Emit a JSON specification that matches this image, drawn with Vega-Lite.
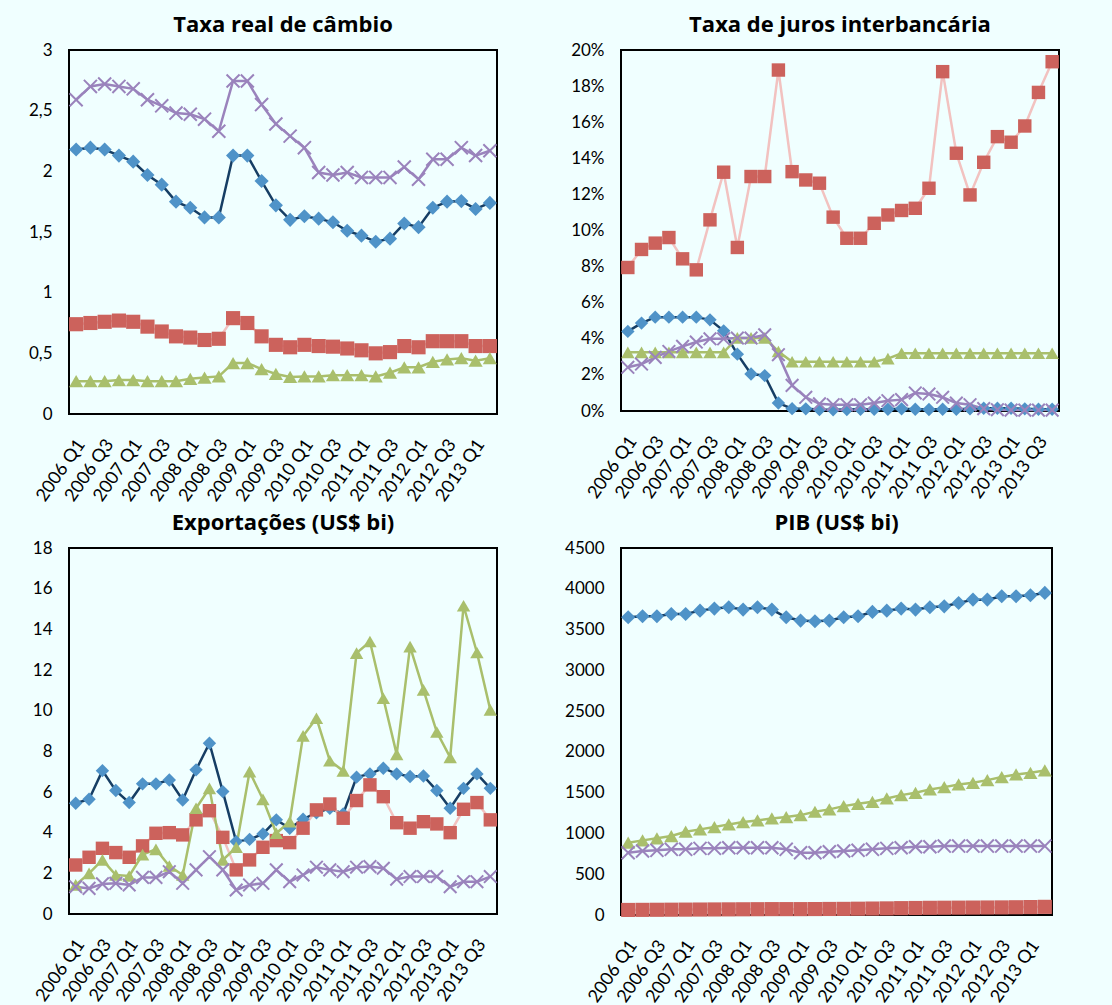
{
  "$schema": "https://vega.github.io/schema/vega-lite/v6.json",
  "background": "#F0FFFF",
  "padding": {"left": 27, "top": 13, "right": 50, "bottom": 3},
  "datasets": {
    "tl": [
      {"t":"2006 Q1","a":2.18,"b":0.74,"c":0.27,"d":2.59},
      {"t":"2006 Q2","a":2.195,"b":0.75,"c":0.27,"d":2.70},
      {"t":"2006 Q3","a":2.18,"b":0.76,"c":0.27,"d":2.72},
      {"t":"2006 Q4","a":2.13,"b":0.77,"c":0.28,"d":2.70},
      {"t":"2007 Q1","a":2.08,"b":0.76,"c":0.28,"d":2.68},
      {"t":"2007 Q2","a":1.97,"b":0.72,"c":0.27,"d":2.59},
      {"t":"2007 Q3","a":1.89,"b":0.68,"c":0.27,"d":2.54},
      {"t":"2007 Q4","a":1.75,"b":0.64,"c":0.27,"d":2.48},
      {"t":"2008 Q1","a":1.70,"b":0.63,"c":0.29,"d":2.47},
      {"t":"2008 Q2","a":1.62,"b":0.61,"c":0.30,"d":2.43},
      {"t":"2008 Q3","a":1.62,"b":0.62,"c":0.31,"d":2.33},
      {"t":"2008 Q4","a":2.13,"b":0.79,"c":0.42,"d":2.745},
      {"t":"2009 Q1","a":2.13,"b":0.75,"c":0.42,"d":2.745},
      {"t":"2009 Q2","a":1.92,"b":0.64,"c":0.37,"d":2.55},
      {"t":"2009 Q3","a":1.72,"b":0.57,"c":0.33,"d":2.39},
      {"t":"2009 Q4","a":1.60,"b":0.55,"c":0.305,"d":2.29},
      {"t":"2010 Q1","a":1.63,"b":0.57,"c":0.31,"d":2.195},
      {"t":"2010 Q2","a":1.61,"b":0.56,"c":0.31,"d":1.99},
      {"t":"2010 Q3","a":1.58,"b":0.555,"c":0.32,"d":1.97},
      {"t":"2010 Q4","a":1.51,"b":0.54,"c":0.32,"d":1.99},
      {"t":"2011 Q1","a":1.47,"b":0.525,"c":0.32,"d":1.95},
      {"t":"2011 Q2","a":1.42,"b":0.50,"c":0.31,"d":1.95},
      {"t":"2011 Q3","a":1.445,"b":0.51,"c":0.34,"d":1.95},
      {"t":"2011 Q4","a":1.57,"b":0.56,"c":0.385,"d":2.035},
      {"t":"2012 Q1","a":1.54,"b":0.55,"c":0.385,"d":1.935},
      {"t":"2012 Q2","a":1.70,"b":0.60,"c":0.43,"d":2.10},
      {"t":"2012 Q3","a":1.75,"b":0.60,"c":0.45,"d":2.10},
      {"t":"2012 Q4","a":1.755,"b":0.60,"c":0.46,"d":2.195},
      {"t":"2013 Q1","a":1.69,"b":0.56,"c":0.44,"d":2.13},
      {"t":"2013 Q2","a":1.74,"b":0.56,"c":0.46,"d":2.17}
    ],
    "tr": [
      {"t":"2006 Q1","a":4.41,"b":7.95,"c":3.25,"d":2.42},
      {"t":"2006 Q2","a":4.87,"b":8.95,"c":3.25,"d":2.60},
      {"t":"2006 Q3","a":5.20,"b":9.30,"c":3.25,"d":2.97},
      {"t":"2006 Q4","a":5.20,"b":9.61,"c":3.25,"d":3.30},
      {"t":"2007 Q1","a":5.20,"b":8.43,"c":3.25,"d":3.58},
      {"t":"2007 Q2","a":5.20,"b":7.82,"c":3.25,"d":3.82},
      {"t":"2007 Q3","a":5.05,"b":10.59,"c":3.25,"d":4.00},
      {"t":"2007 Q4","a":4.44,"b":13.23,"c":3.25,"d":4.00},
      {"t":"2008 Q1","a":3.15,"b":9.06,"c":4.05,"d":4.04},
      {"t":"2008 Q2","a":2.05,"b":12.99,"c":4.05,"d":4.04},
      {"t":"2008 Q3","a":1.96,"b":12.99,"c":4.05,"d":4.22},
      {"t":"2008 Q4","a":0.44,"b":18.89,"c":3.30,"d":3.12},
      {"t":"2009 Q1","a":0.13,"b":13.26,"c":2.73,"d":1.42},
      {"t":"2009 Q2","a":0.12,"b":12.80,"c":2.73,"d":0.76},
      {"t":"2009 Q3","a":0.08,"b":12.62,"c":2.73,"d":0.40},
      {"t":"2009 Q4","a":0.07,"b":10.74,"c":2.73,"d":0.35},
      {"t":"2010 Q1","a":0.08,"b":9.57,"c":2.73,"d":0.35},
      {"t":"2010 Q2","a":0.10,"b":9.57,"c":2.73,"d":0.35},
      {"t":"2010 Q3","a":0.10,"b":10.40,"c":2.73,"d":0.44},
      {"t":"2010 Q4","a":0.10,"b":10.86,"c":2.90,"d":0.57},
      {"t":"2011 Q1","a":0.12,"b":11.11,"c":3.20,"d":0.63},
      {"t":"2011 Q2","a":0.10,"b":11.23,"c":3.20,"d":1.00},
      {"t":"2011 Q3","a":0.08,"b":12.34,"c":3.20,"d":0.94},
      {"t":"2011 Q4","a":0.10,"b":18.80,"c":3.20,"d":0.76},
      {"t":"2012 Q1","a":0.10,"b":14.28,"c":3.20,"d":0.44},
      {"t":"2012 Q2","a":0.12,"b":11.97,"c":3.20,"d":0.35},
      {"t":"2012 Q3","a":0.15,"b":13.78,"c":3.20,"d":0.13},
      {"t":"2012 Q4","a":0.15,"b":15.20,"c":3.20,"d":0.07},
      {"t":"2013 Q1","a":0.15,"b":14.89,"c":3.20,"d":0.05},
      {"t":"2013 Q2","a":0.12,"b":15.79,"c":3.20,"d":0.05},
      {"t":"2013 Q3","a":0.10,"b":17.65,"c":3.20,"d":0.05},
      {"t":"2013 Q4","a":0.10,"b":19.35,"c":3.20,"d":0.05}
    ],
    "bl": [
      {"t":"2006 Q1","a":5.45,"b":2.41,"c":1.43,"d":1.34},
      {"t":"2006 Q2","a":5.64,"b":2.79,"c":2.00,"d":1.26},
      {"t":"2006 Q3","a":7.05,"b":3.23,"c":2.66,"d":1.48},
      {"t":"2006 Q4","a":6.07,"b":3.02,"c":1.92,"d":1.51},
      {"t":"2007 Q1","a":5.48,"b":2.79,"c":1.87,"d":1.43},
      {"t":"2007 Q2","a":6.40,"b":3.35,"c":2.92,"d":1.80},
      {"t":"2007 Q3","a":6.40,"b":3.97,"c":3.18,"d":1.80},
      {"t":"2007 Q4","a":6.59,"b":4.00,"c":2.36,"d":2.08},
      {"t":"2008 Q1","a":5.61,"b":3.89,"c":1.92,"d":1.51},
      {"t":"2008 Q2","a":7.09,"b":4.63,"c":5.20,"d":2.17},
      {"t":"2008 Q3","a":8.40,"b":5.08,"c":6.18,"d":2.82},
      {"t":"2008 Q4","a":6.02,"b":3.77,"c":2.66,"d":2.17},
      {"t":"2009 Q1","a":3.56,"b":2.17,"c":3.28,"d":1.18},
      {"t":"2009 Q2","a":3.67,"b":2.66,"c":7.00,"d":1.43},
      {"t":"2009 Q3","a":3.94,"b":3.28,"c":5.64,"d":1.51},
      {"t":"2009 Q4","a":4.63,"b":3.61,"c":3.97,"d":2.17},
      {"t":"2010 Q1","a":4.22,"b":3.51,"c":4.54,"d":1.59},
      {"t":"2010 Q2","a":4.66,"b":4.22,"c":8.76,"d":1.92},
      {"t":"2010 Q3","a":4.98,"b":5.12,"c":9.63,"d":2.30},
      {"t":"2010 Q4","a":5.20,"b":5.41,"c":7.54,"d":2.17},
      {"t":"2011 Q1","a":4.92,"b":4.71,"c":7.04,"d":2.08},
      {"t":"2011 Q2","a":6.73,"b":5.58,"c":12.83,"d":2.30},
      {"t":"2011 Q3","a":6.89,"b":6.35,"c":13.40,"d":2.33},
      {"t":"2011 Q4","a":7.17,"b":5.77,"c":10.61,"d":2.25},
      {"t":"2012 Q1","a":6.89,"b":4.49,"c":7.85,"d":1.71},
      {"t":"2012 Q2","a":6.76,"b":4.22,"c":13.15,"d":1.84},
      {"t":"2012 Q3","a":6.79,"b":4.54,"c":11.02,"d":1.84},
      {"t":"2012 Q4","a":6.07,"b":4.43,"c":8.95,"d":1.84},
      {"t":"2013 Q1","a":5.20,"b":4.00,"c":7.70,"d":1.34},
      {"t":"2013 Q2","a":6.18,"b":5.15,"c":15.16,"d":1.59},
      {"t":"2013 Q3","a":6.89,"b":5.48,"c":12.86,"d":1.59},
      {"t":"2013 Q4","a":6.18,"b":4.63,"c":10.04,"d":1.84}
    ],
    "br": [
      {"t":"2006 Q1","a":3651,"b":62,"c":886,"d":763},
      {"t":"2006 Q2","a":3663,"b":63,"c":915,"d":784},
      {"t":"2006 Q3","a":3663,"b":64,"c":940,"d":793},
      {"t":"2006 Q4","a":3691,"b":65,"c":968,"d":805},
      {"t":"2007 Q1","a":3691,"b":66,"c":1021,"d":805},
      {"t":"2007 Q2","a":3732,"b":67,"c":1050,"d":817},
      {"t":"2007 Q3","a":3757,"b":68,"c":1078,"d":817},
      {"t":"2007 Q4","a":3773,"b":69,"c":1111,"d":825},
      {"t":"2008 Q1","a":3745,"b":70,"c":1139,"d":825},
      {"t":"2008 Q2","a":3773,"b":71,"c":1160,"d":825},
      {"t":"2008 Q3","a":3745,"b":72,"c":1184,"d":825},
      {"t":"2008 Q4","a":3651,"b":72,"c":1201,"d":805},
      {"t":"2009 Q1","a":3610,"b":72,"c":1225,"d":763},
      {"t":"2009 Q2","a":3602,"b":73,"c":1266,"d":763},
      {"t":"2009 Q3","a":3610,"b":74,"c":1295,"d":776},
      {"t":"2009 Q4","a":3651,"b":75,"c":1335,"d":784},
      {"t":"2010 Q1","a":3663,"b":77,"c":1364,"d":793},
      {"t":"2010 Q2","a":3716,"b":79,"c":1388,"d":805},
      {"t":"2010 Q3","a":3732,"b":81,"c":1429,"d":817},
      {"t":"2010 Q4","a":3757,"b":84,"c":1470,"d":825},
      {"t":"2011 Q1","a":3745,"b":86,"c":1498,"d":837},
      {"t":"2011 Q2","a":3773,"b":88,"c":1540,"d":837},
      {"t":"2011 Q3","a":3785,"b":89,"c":1568,"d":845},
      {"t":"2011 Q4","a":3826,"b":90,"c":1601,"d":845},
      {"t":"2012 Q1","a":3867,"b":91,"c":1621,"d":845},
      {"t":"2012 Q2","a":3867,"b":92,"c":1654,"d":845},
      {"t":"2012 Q3","a":3908,"b":93,"c":1691,"d":845},
      {"t":"2012 Q4","a":3908,"b":95,"c":1723,"d":845},
      {"t":"2013 Q1","a":3920,"b":97,"c":1743,"d":845},
      {"t":"2013 Q2","a":3949,"b":100,"c":1772,"d":845}
    ]
  },
  "columns": 2,
  "spacing": {"row": 5, "column": 61},
  "concat": [
    {
      "title": "Taxa real de câmbio",
      "width": 428, "height": 364,
      "data": {"name": "tl"},
      "transform": [{"fold": ["a","b","c","d"], "as": ["s","v"]}],
      "encoding": {
        "x": {"field": "t", "type": "ordinal", "sort": null, "title": null,
              "axis": {"values": ["2006 Q1","2006 Q3","2007 Q1","2007 Q3","2008 Q1","2008 Q3","2009 Q1","2009 Q3","2010 Q1","2010 Q3","2011 Q1","2011 Q3","2012 Q1","2012 Q3","2013 Q1"]}},
        "y": {"field": "v", "type": "quantitative", "title": null,
              "scale": {"domain": [0, 3], "nice": false},
              "axis": {"values": [0,0.5,1,1.5,2,2.5,3], "labelExpr": "replace(toString(datum.value), '.', ',')"}}
      },
      "layer": [
        {"mark": {"type": "line", "strokeWidth": 2.5},
         "encoding": {"color": {"field": "s", "type": "nominal", "legend": null,
           "scale": {"domain": ["a","b","c","d"], "range": ["#163E64","#F2C2C0","#A9BF6C","#9A83BC"]}}}},
        {"transform": [{"filter": "datum.s !== 'd'"}],
         "mark": {"type": "point", "filled": true, "opacity": 1, "size": 200},
         "encoding": {
           "fill": {"field": "s", "type": "nominal", "legend": null, "scale": {"domain": ["a","b","c"], "range": ["#4F93C8","#CC625C","#A9BF6C"]}},
           "shape": {"field": "s", "type": "nominal", "legend": null, "scale": {"domain": ["a","b","c"], "range": ["diamond","square","triangle-up"]}}}},
        {"transform": [{"filter": "datum.s === 'd'"}],
         "mark": {"type": "point", "shape": "M-1,-1L1,1M1,-1L-1,1", "filled": false, "opacity": 1, "size": 170, "stroke": "#9A83BC", "strokeWidth": 2}}
      ]
    },
    {
      "title": "Taxa de juros interbancária",
      "width": 438, "height": 361,
      "data": {"name": "tr"},
      "transform": [{"fold": ["a","b","c","d"], "as": ["s","v"]}],
      "encoding": {
        "x": {"field": "t", "type": "ordinal", "sort": null, "title": null,
              "axis": {"values": ["2006 Q1","2006 Q3","2007 Q1","2007 Q3","2008 Q1","2008 Q3","2009 Q1","2009 Q3","2010 Q1","2010 Q3","2011 Q1","2011 Q3","2012 Q1","2012 Q3","2013 Q1","2013 Q3"]}},
        "y": {"field": "v", "type": "quantitative", "title": null,
              "scale": {"domain": [0, 20], "nice": false},
              "axis": {"values": [0,2,4,6,8,10,12,14,16,18,20], "labelExpr": "datum.value + '%'"}}
      },
      "layer": [
        {"mark": {"type": "line", "strokeWidth": 2.5},
         "encoding": {"color": {"field": "s", "type": "nominal", "legend": null,
           "scale": {"domain": ["a","b","c","d"], "range": ["#163E64","#F2C2C0","#A9BF6C","#9A83BC"]}}}},
        {"transform": [{"filter": "datum.s !== 'd'"}],
         "mark": {"type": "point", "filled": true, "opacity": 1, "size": 180},
         "encoding": {
           "fill": {"field": "s", "type": "nominal", "legend": null, "scale": {"domain": ["a","b","c"], "range": ["#4F93C8","#CC625C","#A9BF6C"]}},
           "shape": {"field": "s", "type": "nominal", "legend": null, "scale": {"domain": ["a","b","c"], "range": ["diamond","square","triangle-up"]}}}},
        {"transform": [{"filter": "datum.s === 'd'"}],
         "mark": {"type": "point", "shape": "M-1,-1L1,1M1,-1L-1,1", "filled": false, "opacity": 1, "size": 160, "stroke": "#9A83BC", "strokeWidth": 2}}
      ]
    },
    {
      "title": "Exportações (US$ bi)",
      "width": 428, "height": 366,
      "data": {"name": "bl"},
      "transform": [{"fold": ["a","b","c","d"], "as": ["s","v"]}],
      "encoding": {
        "x": {"field": "t", "type": "ordinal", "sort": null, "title": null,
              "axis": {"values": ["2006 Q1","2006 Q3","2007 Q1","2007 Q3","2008 Q1","2008 Q3","2009 Q1","2009 Q3","2010 Q1","2010 Q3","2011 Q1","2011 Q3","2012 Q1","2012 Q3","2013 Q1","2013 Q3"]}},
        "y": {"field": "v", "type": "quantitative", "title": null,
              "scale": {"domain": [0, 18], "nice": false},
              "axis": {"values": [0,2,4,6,8,10,12,14,16,18]}}
      },
      "layer": [
        {"mark": {"type": "line", "strokeWidth": 2.5},
         "encoding": {"color": {"field": "s", "type": "nominal", "legend": null,
           "scale": {"domain": ["a","b","c","d"], "range": ["#163E64","#F2C2C0","#A9BF6C","#9A83BC"]}}}},
        {"transform": [{"filter": "datum.s !== 'd'"}],
         "mark": {"type": "point", "filled": true, "opacity": 1, "size": 180},
         "encoding": {
           "fill": {"field": "s", "type": "nominal", "legend": null, "scale": {"domain": ["a","b","c"], "range": ["#4F93C8","#CC625C","#A9BF6C"]}},
           "shape": {"field": "s", "type": "nominal", "legend": null, "scale": {"domain": ["a","b","c"], "range": ["diamond","square","triangle-up"]}}}},
        {"transform": [{"filter": "datum.s === 'd'"}],
         "mark": {"type": "point", "shape": "M-1,-1L1,1M1,-1L-1,1", "filled": false, "opacity": 1, "size": 160, "stroke": "#9A83BC", "strokeWidth": 2}}
      ]
    },
    {
      "title": "PIB (US$ bi)",
      "width": 431, "height": 367,
      "data": {"name": "br"},
      "transform": [{"fold": ["a","b","c","d"], "as": ["s","v"]}],
      "encoding": {
        "x": {"field": "t", "type": "ordinal", "sort": null, "title": null,
              "axis": {"values": ["2006 Q1","2006 Q3","2007 Q1","2007 Q3","2008 Q1","2008 Q3","2009 Q1","2009 Q3","2010 Q1","2010 Q3","2011 Q1","2011 Q3","2012 Q1","2012 Q3","2013 Q1"]}},
        "y": {"field": "v", "type": "quantitative", "title": null,
              "scale": {"domain": [0, 4500], "nice": false},
              "axis": {"values": [0,500,1000,1500,2000,2500,3000,3500,4000,4500], "format": "d"}}
      },
      "layer": [
        {"mark": {"type": "line", "strokeWidth": 2.5},
         "encoding": {"color": {"field": "s", "type": "nominal", "legend": null,
           "scale": {"domain": ["a","b","c","d"], "range": ["#163E64","#F2C2C0","#A9BF6C","#9A83BC"]}}}},
        {"transform": [{"filter": "datum.s !== 'd'"}],
         "mark": {"type": "point", "filled": true, "opacity": 1, "size": 200},
         "encoding": {
           "fill": {"field": "s", "type": "nominal", "legend": null, "scale": {"domain": ["a","b","c"], "range": ["#4F93C8","#CC625C","#A9BF6C"]}},
           "shape": {"field": "s", "type": "nominal", "legend": null, "scale": {"domain": ["a","b","c"], "range": ["diamond","square","triangle-up"]}}}},
        {"transform": [{"filter": "datum.s === 'd'"}],
         "mark": {"type": "point", "shape": "M-1,-1L1,1M1,-1L-1,1", "filled": false, "opacity": 1, "size": 170, "stroke": "#9A83BC", "strokeWidth": 2}}
      ]
    }
  ],
  "config": {
    "font": "Lato",
    "view": {"stroke": "#000000", "strokeWidth": 2, "fill": "#F0FFFF"},
    "title": {"font": "Open Sans", "fontSize": 22, "fontWeight": "bold", "color": "#000000", "frame": "group", "offset": 4},
    "axis": {"labelFont": "Lato", "labelFontSize": 17, "labelColor": "#000000", "ticks": false, "domain": false, "grid": false},
    "axisY": {"labelPadding": 17},
    "axisX": {"labelAngle": -55, "labelPadding": 27, "labelOffset": 5, "labelFontSize": 18}
  }
}
